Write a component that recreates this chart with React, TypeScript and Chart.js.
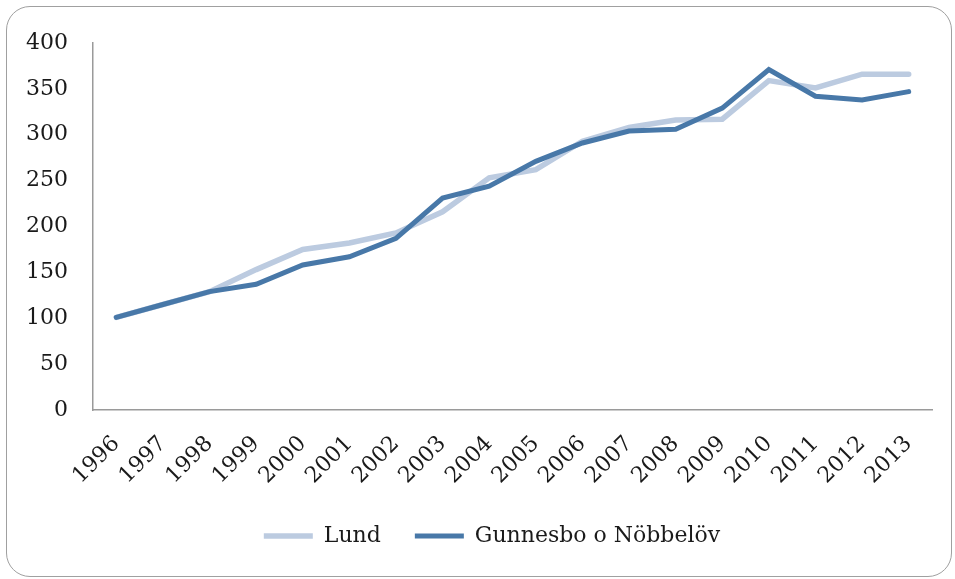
import React, { useEffect, useRef } from "react";
import { Chart, registerables } from "chart.js";

Chart.register(...registerables);

const years = ["1996","1997","1998","1999","2000","2001","2002","2003","2004","2005","2006","2007","2008","2009","2010","2011","2012","2013"];
const lund = [101, 115, 129, 153, 175, 182, 193, 216, 253, 262, 293, 308, 316, 317, 359, 351, 366, 366];
const gunnesbo = [101, 115, 129, 137, 158, 167, 187, 231, 244, 271, 291, 304, 306, 329, 371, 342, 338, 347];
const seriesNames = ["Lund", "Gunnesbo o Nöbbelöv"];

const FONT = "'DejaVu Serif', serif";

const legendShift = {
  id: "legendShift",
  afterLayout(chart: any) {
    const l = chart.legend;
    if (l) {
      l.left += 26;
      l.right += 26;
    }
  },
};

export default function App() {
  const ref = useRef<HTMLCanvasElement>(null);
  useEffect(() => {
    if (!ref.current) return;
    const chart = new Chart(ref.current, {
      type: "line",
      data: {
        labels: years,
        datasets: [
          {
            label: seriesNames[0],
            data: lund,
            borderColor: "#bccbe0",
            backgroundColor: "#bccbe0",
            borderWidth: 5.5,
            pointRadius: 0,
            tension: 0,
            borderCapStyle: "round",
            order: 1,
          },
          {
            label: seriesNames[1],
            data: gunnesbo,
            borderColor: "#4878a8",
            backgroundColor: "#4878a8",
            borderWidth: 5,
            pointRadius: 0,
            tension: 0,
            borderCapStyle: "round",
            order: 0,
          },
        ],
      },
      plugins: [legendShift],
      options: {
        animation: false,
        responsive: false,
        layout: { padding: { left: 0, right: 23, top: 43, bottom: 22 } },
        plugins: {
          tooltip: { enabled: false },
          legend: {
            position: "bottom",
            labels: {
              usePointStyle: true,
              pointStyle: "line",
              pointStyleWidth: 49,
              padding: 34,
              color: "#1a1a1a",
              font: { family: FONT, size: 22 },
              sort: (a: any, b: any) => a.datasetIndex - b.datasetIndex,
            },
          },
        },
        scales: {
          x: {
            offset: true,
            grid: { display: false, drawTicks: false },
            border: { display: true, color: "#9a9a9a", width: 1.5 },
            ticks: {
              minRotation: 45,
              maxRotation: 45,
              padding: 21,
              color: "#1a1a1a",
              font: { family: FONT, size: 22 },
            },
            afterFit: (s: any) => { s.height = 81; },
          },
          y: {
            min: 0,
            max: 400,
            grid: { display: false, drawTicks: false },
            border: { display: true, color: "#9a9a9a", width: 1.5 },
            ticks: {
              stepSize: 50,
              padding: 25,
              color: "#1a1a1a",
              font: { family: FONT, size: 22 },
            },
            afterFit: (s: any) => { s.width = 93; },
          },
        },
      },
    });
    return () => chart.destroy();
  }, []);
  return (
    <div style={{ position: "absolute", left: 0, top: 0, width: 955, height: 579, background: "#fff" }}>
      <div
        style={{
          position: "absolute",
          left: 6,
          top: 6,
          width: 946,
          height: 571,
          boxSizing: "border-box",
          border: "1.5px solid #a0a0a0",
          borderRadius: 24,
        }}
      />
      <canvas ref={ref} width={955} height={579} style={{ position: "absolute", left: 0, top: 0 }} />
    </div>
  );
}
